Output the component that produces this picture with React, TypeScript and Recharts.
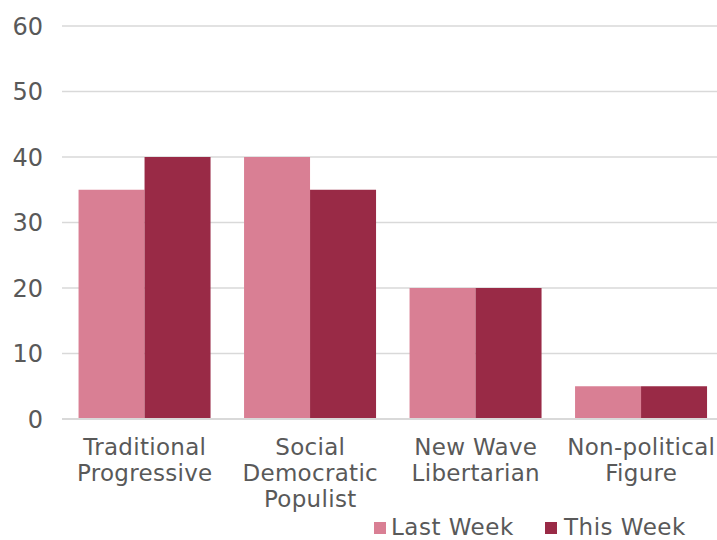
import React from "react";
import { BarChart, Bar, XAxis, YAxis, CartesianGrid, Legend } from "recharts";

const categories = ["Traditional\nProgressive", "Social\nDemocratic\nPopulist", "New Wave\nLibertarian", "Non-political\nFigure"];
const lastWeek = [35, 40, 20, 5];
const thisWeek = [40, 35, 20, 5];
const yTicks = [0, 10, 20, 30, 40, 50, 60];

const data = categories.map((c, i) => ({ name: c, last: lastWeek[i], this: thisWeek[i] }));

const FONT = "'DejaVu Sans', sans-serif";
const TEXT = "#595959";
const PINK = "#D97F94";
const DARK = "#992A46";

const XTick = (props: any) => {
  const { x, y, payload } = props;
  const lines = String(payload.value).split("\n");
  return (
    <text x={x} y={y} textAnchor="middle" fill={TEXT} fontFamily={FONT} fontSize={23} letterSpacing={0.3}>
      {lines.map((l, i) => (
        <tspan key={i} x={x} dy={i === 0 ? 28 : 26}>{l}</tspan>
      ))}
    </text>
  );
};

const LegendContent = () => (
  <div style={{ position: "absolute", left: 374, top: 6, display: "flex", alignItems: "center", fontFamily: FONT, fontSize: 23, lineHeight: "23px", letterSpacing: 0.5, color: TEXT, height: 23, whiteSpace: "nowrap" }}>
    <span style={{ display: "inline-block", width: 12, height: 12, background: PINK, marginRight: 5 }} />
    <span style={{ display: "inline-block", width: 154 }}>Last Week</span>
    <span style={{ display: "inline-block", width: 12, height: 12, background: DARK, marginRight: 7 }} />
    <span>This Week</span>
  </div>
);

export default function App() {
  return (
    <div style={{ position: "absolute", left: 0, top: 0, width: 717, height: 540, background: "#fff", overflow: "hidden" }}>
      <BarChart width={724} height={540} data={data} margin={{ top: 26, right: 0, bottom: 0, left: 0 }} barCategoryGap="10%" barGap={0}>
        <CartesianGrid vertical={false} stroke="#d9d9d9" strokeWidth={1.5} />
        <XAxis dataKey="name" height={91} tick={<XTick />} tickLine={false} axisLine={{ stroke: "#d9d9d9", strokeWidth: 2 }} interval={0} />
        <YAxis width={62} domain={[0, 60]} ticks={yTicks} tickLine={false} axisLine={false} tickSize={0} tickMargin={19} tick={{ fill: TEXT, fontFamily: FONT, fontSize: 24 }} />
        <Legend verticalAlign="bottom" content={<LegendContent />} wrapperStyle={{ height: 30, width: 724, left: 0, bottom: 0 }} />
        <Bar dataKey="last" name="Last Week" fill={PINK} isAnimationActive={false} />
        <Bar dataKey="this" name="This Week" fill={DARK} isAnimationActive={false} />
      </BarChart>
    </div>
  );
}
